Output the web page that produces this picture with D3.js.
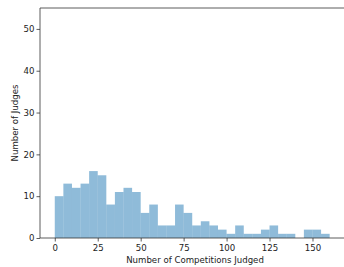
<!DOCTYPE html>
<html>
<head>
<meta charset="utf-8">
<script src="https://cdn.jsdelivr.net/npm/d3@7"></script>
<style>
 body { margin: 0; background: #fff; }
 svg text { font-family: "DejaVu Sans", sans-serif; }
</style>
</head>
<body>
<svg id="chart"></svg>
<script>
// histogram bins, width 5, starting at 0
const binStarts = d3.range(0, 160, 5);
const counts = [10, 13, 12, 13, 16, 15, 8, 11, 12, 11, 6, 8, 3, 3, 8, 6,
 3, 4, 3, 2, 1, 3, 1, 1, 2, 3, 1, 1, 0, 2, 2, 1];
const xTicks = [0, 25, 50, 75, 100, 125, 150];
const yTicks = [0, 10, 20, 30, 40, 50];

const width = 344, height = 267;
const margin = { left: 40, top: 8, right: -8, bottom: 29 };
const fs = 8.6;

const svg = d3.select('#chart').attr('width', width).attr('height', height);

const x = d3.scaleLinear()
 .domain([-8.6, 173])
 .range([margin.left, width - margin.right]);
const y = d3.scaleLinear()
 .domain([0, 55])
 .range([height - margin.bottom, margin.top]);

svg.append('g')
 .selectAll('rect')
 .data(counts)
 .enter()
 .append('rect')
 .attr('x', (d, i) => x(binStarts[i]))
 .attr('width', (d, i) => x(binStarts[i] + 5) - x(binStarts[i]))
 .attr('y', d => y(d))
 .attr('height', d => y(0) - y(d))
 .attr('fill', '#1f77b4')
 .attr('fill-opacity', 0.5);

const xAxis = svg.append('g')
 .attr('transform', `translate(0,${height - margin.bottom})`)
 .call(d3.axisBottom(x).tickValues(xTicks).tickSize(3.5).tickPadding(3));
const yAxis = svg.append('g')
 .attr('transform', `translate(${margin.left},0)`)
 .call(d3.axisLeft(y).tickValues(yTicks).tickSize(3.5).tickPadding(2));

[xAxis, yAxis].forEach(g => {
 g.select('.domain').remove();
 g.selectAll('line').attr('stroke', '#333').attr('stroke-width', 0.8);
 g.selectAll('text').attr('font-size', fs).attr('fill', '#222');
});

// spines
const spine = svg.append('g').attr('stroke', '#333').attr('stroke-width', 0.8);
spine.append('line').attr('x1', margin.left).attr('x2', width)
 .attr('y1', y(0)).attr('y2', y(0));
spine.append('line').attr('x1', margin.left).attr('x2', width)
 .attr('y1', y(55)).attr('y2', y(55));
spine.append('line').attr('x1', margin.left).attr('x2', margin.left)
 .attr('y1', y(0)).attr('y2', y(55));

const [rx0, rx1] = x.range();
svg.append('text')
 .attr('x', (rx0 + rx1) / 2 - 1).attr('y', 263)
 .attr('text-anchor', 'middle')
 .attr('font-size', fs).attr('fill', '#222')
 .text('Number of Competitions Judged');

svg.append('text')
 .attr('transform', `translate(18,${y(27.5)}) rotate(-90)`)
 .attr('text-anchor', 'middle')
 .attr('font-size', fs).attr('fill', '#222')
 .text('Number of Judges');
</script>
</body>
</html>
